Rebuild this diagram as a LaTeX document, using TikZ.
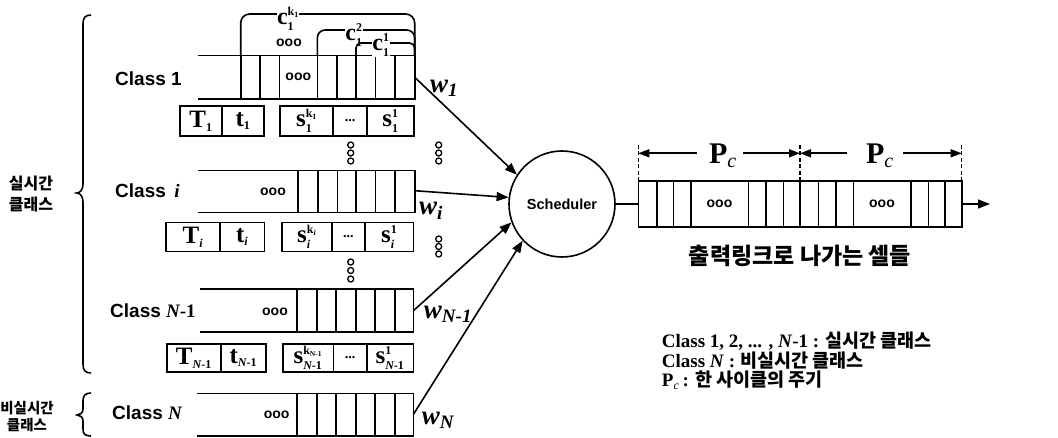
\documentclass[tikz,border=0pt]{standalone}
\usepackage{fontspec}
\setmainfont{Liberation Serif}
\setsansfont{Liberation Sans}
\newfontfamily\kr{Noto Sans CJK KR}
\usetikzlibrary{arrows.meta}
\newcommand\myfs[1]{\fontsize{#1}{#1}\selectfont}
\newcommand\bsub[2]{$\hbox{#1}_{\hbox{\myfs{12}#2}}$}
\newcommand\bss[3]{$\hbox{#1}^{\hbox{\myfs{12}#2}}_{\hbox{\myfs{12}#3}}$}
\newcommand\kone[1]{k\raisebox{-1.5pt}{\myfs{8}#1}}
\begin{document}
\begin{tikzpicture}[x=1pt,y=-1pt,
  ln/.style={line width=1.6pt},
  pbox/.style={draw, line width=1.6pt, inner sep=0pt, font=\myfs{25}\bfseries},
  cls/.style={anchor=west, inner sep=0pt, font=\sffamily\bfseries\myfs{19}},
  odots/.style={inner sep=0pt, font=\sffamily\bfseries\myfs{14}},
  arr/.style={line width=1.6pt, -{Triangle[length=12pt,width=9pt]}},
  dimarr/.style={line width=1.6pt, -{Triangle[length=11pt,width=8pt]}},
  clab/.style={fill=white, inner sep=0.5pt, font=\myfs{24}\bfseries},
  wlab/.style={inner sep=0pt, font=\myfs{27}\bfseries\itshape},
  vdot/.style={line width=1.3pt}]
\useasboundingbox (0,0) rectangle (1058,438);

% ---- left braces and labels
\draw[ln] (91,15) .. controls (85,15) and (83,18) .. (83,24) -- (83,184)
  .. controls (83,190) and (80,193) .. (76.7,193)
  .. controls (80,193) and (83,196) .. (83,202) -- (83,364)
  .. controls (83,370) and (85,373) .. (91,373);
\draw[ln] (91,393) .. controls (85,393) and (83,396) .. (83,401) -- (83,409)
  .. controls (83,413) and (80,415) .. (77,415)
  .. controls (80,415) and (83,417) .. (83,421) -- (83,429)
  .. controls (83,434) and (85,436) .. (91,436);
\node[align=center, inner sep=0pt, font=\kr\bfseries\fontsize{16}{21}\selectfont] (rtl) at (31,194) {실시간\\클래스};
\node[align=center, inner sep=0pt, font=\kr\bfseries\fontsize{14.5}{17}\selectfont] (nrtl) at (27,417) {비실시간\\클래스};

% ---- class labels
\node[cls] (c1) at (115,79) {Class 1};
\node[cls] (ci) at (115,191) {Class \,{\rmfamily\itshape i}};
\node[cls] (cn1) at (110,311) {Class {\rmfamily\bfseries\itshape N}{\rmfamily\bfseries -1}};
\node[cls] (cn) at (112,413) {Class {\rmfamily\bfseries\itshape N}};

% ---- Class 1 queue
\draw[ln] (198,55.7) -- (414.7,55.7) -- (414.7,99) -- (198,99);
\foreach \x in {240.7,260,279.3,317.3,336.7,356,375.3,394.7} \draw[ln] (\x,55.7) -- (\x,99);
\node[odots] (o1) at (298.3,77) {ooo};
\coordinate (q1) at (414.7,77.3);

% braces c
\draw[ln, rounded corners=9pt] (240.7,55.7) -- (240.7,14) -- (414.7,14) -- (414.7,55.7);
\node[clab] (ck) at (288,19) {\bss{c}{\kone{1}}{1}};
\node[odots] (oc) at (289,43) {ooo};
\draw[ln, rounded corners=8pt] (317.3,55.7) -- (317.3,30) -- (414.7,30) -- (414.7,55.7);
\node[clab] (c2) at (354,35) {\bss{c}{2}{1}};
\draw[ln, rounded corners=5pt] (356,55.7) -- (356,43) -- (414.7,43) -- (414.7,55.7);
\node[clab] (c1l) at (381,45) {\bss{c}{1}{1}};

% Class 1 parameter boxes
\node[pbox, minimum width=42pt, minimum height=30pt] (T1) at (201,121) {\bsub{T}{1}};
\node[pbox, minimum width=42pt, minimum height=30pt] (t1) at (243,121) {\bsub{t}{1}};
\node[pbox, minimum width=53pt, minimum height=30pt] (s1k) at (306.5,121) {\bss{s}{\kone{1}}{1}};
\node[pbox, minimum width=34pt, minimum height=30pt] (s1d) at (350,121) {\myfs{14}...};
\node[pbox, minimum width=47pt, minimum height=30pt] (s11) at (390.5,121) {\bss{s}{1}{1}};

% vertical dots
\foreach \y in {145,153,161} {\draw[vdot] (350.7,\y) circle (3); \draw[vdot] (438.7,\y) circle (3);}
\foreach \y in {262,270.5,279} \draw[vdot] (350.7,\y) circle (3);
\foreach \y in {239,246.5,254} \draw[vdot] (438.7,\y) circle (3);

% ---- Class i queue
\draw[ln] (198,170.7) -- (414.7,170.7) -- (414.7,212.7) -- (198,212.7);
\foreach \x in {297.7,317.7,337.3,356,375.3,394.7} \draw[ln] (\x,170.7) -- (\x,212.7);
\node[odots] (oi) at (273,191.7) {ooo};
\coordinate (qi) at (414.7,190.7);
\node[pbox, minimum width=54.3pt, minimum height=29pt] (Ti) at (192.85,237) {\bsub{T}{\itshape i}};
\node[pbox, minimum width=44.3pt, minimum height=29pt] (ti) at (242.15,237) {\bsub{t}{\itshape i}};
\node[pbox, minimum width=50pt, minimum height=29pt] (sik) at (306.7,237) {\bss{s}{\kone{\itshape i}}{\itshape i}};
\node[pbox, minimum width=33.3pt, minimum height=29pt] (sid) at (348.35,237) {\myfs{14}...};
\node[pbox, minimum width=48.3pt, minimum height=29pt] (si1) at (389.15,237) {\bss{s}{1}{\itshape i}};

% ---- Class N-1 queue
\draw[ln] (200,289.3) -- (413.3,289.3) -- (413.3,332.3) -- (200,332.3);
\foreach \x in {296.7,316.7,336,356,375,395} \draw[ln] (\x,289.3) -- (\x,332.3);
\node[odots] (on1) at (275,311.7) {ooo};
\coordinate (qn1) at (413.3,310.8);
\node[pbox, minimum width=54.3pt, minimum height=28pt] (TN) at (193.85,358) {\bsub{T}{\itshape N\upshape -1}};
\node[pbox, minimum width=44.7pt, minimum height=28pt] (tN) at (243.35,358) {\bsub{t}{\itshape N\upshape -1}};
\node[pbox, minimum width=50.6pt, minimum height=28pt] (sNk) at (308,358) {\bss{s}{k\raisebox{-1.5pt}{\myfs{7.5}N-1}}{\itshape N\upshape -1}};
\node[pbox, minimum width=33.4pt, minimum height=28pt] (sNd) at (350,358) {\myfs{14}...};
\node[pbox, minimum width=46.6pt, minimum height=28pt] (sN1) at (390,358) {\bss{s}{1}{\itshape N\upshape -1}};

% ---- Class N queue
\draw[ln] (196.7,393.3) -- (413.3,393.3) -- (413.3,435.7) -- (196.7,435.7);
\foreach \x in {296.7,316.7,336,356,375,395} \draw[ln] (\x,393.3) -- (\x,435.7);
\node[odots] (on) at (276.7,415) {ooo};
\coordinate (qn) at (413.3,414.5);

% ---- weights
\node[wlab] (w1) at (444,88) {$\hbox{w}_{\hbox{\myfs{19}1}}$};
\node[wlab] (wi) at (431,211) {$\hbox{w}_{\hbox{\myfs{19}i}}$};
\node[wlab] (wn1) at (448,314) {$\hbox{w}_{\hbox{\myfs{19}N-1}}$};
\node[wlab] (wn) at (438,420) {$\hbox{w}_{\hbox{\myfs{19}N}}$};

% ---- scheduler
\node[circle, draw, line width=1.6pt, minimum size=106pt, inner sep=0pt,
      font=\sffamily\bfseries\myfs{14.5}] (sched) at (562,204) {Scheduler};
\draw[arr] (q1) -- (sched.147);
\draw[arr] (qi) -- (sched.173);
\draw[arr] (qn1) -- (sched.200);
\draw[arr] (qn) -- (sched.223);

% ---- output queue
\draw[ln] (638.3,181) rectangle (961.7,227.3);
\foreach \x in {656.7,673.3,690.7,748.3,766,783.3,800,818.3,836,853.3,911,928.3,945} \draw[ln] (\x,181) -- (\x,227.3);
\node[odots] (oo1) at (719.5,204) {ooo};
\node[odots] (oo2) at (882,204) {ooo};
\coordinate (oin) at (638.3,204);
\coordinate (oout) at (961.7,204);
\coordinate (oend) at (990,204);
\draw[ln] (sched.east) -- (oin);
\draw[arr] (oout) -- (oend);

% period marks
\foreach \x/\n in {638.3/0,800/1,961.7/2} {
  \coordinate (dt\n) at (\x,145);
  \coordinate (db\n) at (\x,181);
  \coordinate (da\n) at (\x,153.3);
  \draw[line width=1.1pt, dash pattern=on 4pt off 2.5pt] (dt\n) -- (db\n);
}
\node[inner sep=0pt, font=\myfs{30}\bfseries] (P1) at (723,156) {$\hbox{P}_{\hbox{\myfs{20}\mdseries\itshape c}}$};
\node[inner sep=0pt, font=\myfs{30}\bfseries] (P2) at (880,156) {$\hbox{P}_{\hbox{\myfs{20}\mdseries\itshape c}}$};
\coordinate (p1l) at (696.7,153.3);
\coordinate (p1r) at (743.3,153.3);
\coordinate (p2l) at (846.7,153.3);
\coordinate (p2r) at (903,153.3);
\draw[dimarr] (p1l) -- (da0);
\draw[dimarr] (p1r) -- (da1);
\draw[dimarr] (p2l) -- (da1);
\draw[dimarr] (p2r) -- (da2);

\node[inner sep=0pt, font=\kr\bfseries\myfs{23}] (olab) at (800,256) {출력링크로 나가는 셀들};

% ---- legend
\node[anchor=base west, inner sep=0pt, font=\bfseries\myfs{19}] (leg1) at (661.7,348) {Class 1, 2, ... , \textit{N}-1 : {\kr\myfs{18.5}실시간 클래스}};
\node[anchor=base west, inner sep=0pt, font=\bfseries\myfs{19}] (leg2) at (661.7,368) {Class \textit{N} : {\kr\myfs{18.5}비실시간 클래스}};
\node[anchor=base west, inner sep=0pt, font=\bfseries\myfs{19}] (leg3) at (661.7,387) {$\hbox{P}_{\hbox{\myfs{12}\mdseries\itshape c}}$\,: {\kr\myfs{18.5}한 사이클의 주기}};
\end{tikzpicture}
\end{document}
